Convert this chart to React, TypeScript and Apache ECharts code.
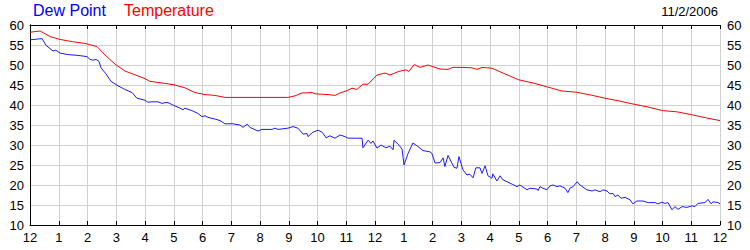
import React, { useEffect, useRef } from "react";
import * as echarts from "echarts";

const hourLabels = ["12","1","2","3","4","5","6","7","8","9","10","11","12","1","2","3","4","5","6","7","8","9","10","11","12"];
const yTicks = [10, 15, 20, 25, 30, 35, 40, 45, 50, 55, 60];
const legendNames = ["Dew Point", "Temperature"];
const dateLabel = "11/2/2006";

const tempHours = [0, 0.35, 0.7, 1.04, 1.5, 1.91, 2.33, 2.61, 2.96, 3.3, 4.0, 4.17, 4.7, 5.04, 5.39, 5.74, 6.09, 6.43, 6.78, 8.97, 9.22, 9.46, 9.81, 9.91, 10.37, 10.61, 10.78, 11.03, 11.2, 11.37, 11.58, 11.76, 12.07, 12.35, 12.52, 12.83, 13.08, 13.18, 13.36, 13.57, 13.84, 14.26, 14.54, 14.71, 15.06, 15.37, 15.55, 15.72, 16.07, 16.35, 17.0, 17.5, 18.0, 18.5, 19.0, 19.5, 20.0, 20.5, 21.0, 21.5, 22.0, 22.5, 23.0, 23.5, 24.0];
const tempValues = [58.2, 58.5, 57.1, 56.4, 55.8, 55.4, 54.6, 52.5, 50.2, 48.5, 46.6, 45.9, 45.4, 45.0, 44.3, 43.1, 42.6, 42.4, 41.9, 41.9, 42.3, 43.0, 43.1, 42.8, 42.6, 42.4, 43.0, 43.6, 44.2, 43.9, 45.2, 45.2, 47.5, 48.0, 47.5, 48.4, 48.8, 48.4, 50.1, 49.4, 50.0, 49.0, 48.9, 49.4, 49.4, 49.3, 48.9, 49.4, 49.2, 48.3, 46.3, 45.5, 44.5, 43.5, 43.2, 42.5, 41.7, 41.0, 40.2, 39.5, 38.6, 38.3, 37.6, 36.8, 36.1];

const dewHours = [0, 0.42, 0.56, 0.8, 0.9, 1.04, 1.32, 1.67, 1.98, 2.09, 2.19, 2.3, 2.4, 2.47, 2.64, 2.82, 3.06, 3.3, 3.55, 3.72, 4.0, 4.1, 4.24, 4.45, 4.59, 4.7, 4.8, 4.97, 5.22, 5.32, 5.39, 5.63, 5.84, 5.98, 6.09, 6.19, 6.43, 6.61, 6.78, 7.06, 7.3, 7.41, 7.55, 7.65, 7.93, 8.07, 8.42, 8.52, 8.63, 8.97, 9.15, 9.32, 9.5, 9.63, 9.67, 9.84, 10.02, 10.16, 10.3, 10.43, 10.61, 10.78, 10.96, 11.06, 11.37, 11.55, 11.58, 11.76, 11.86, 11.93, 12.07, 12.21, 12.38, 12.52, 12.63, 12.66, 12.83, 12.94, 13.01, 13.15, 13.32, 13.46, 13.67, 13.91, 13.98, 14.09, 14.26, 14.37, 14.43, 14.54, 14.75, 14.85, 14.92, 15.06, 15.2, 15.3, 15.41, 15.51, 15.65, 15.72, 15.83, 15.93, 16.07, 16.1, 16.24, 16.35, 16.45, 16.77, 16.94, 17.04, 17.29, 17.39, 17.63, 17.67, 17.74, 17.84, 17.98, 18.09, 18.19, 18.33, 18.43, 18.61, 18.71, 18.78, 18.89, 19.03, 19.13, 19.37, 19.55, 19.65, 19.83, 19.93, 20.07, 20.17, 20.28, 20.35, 20.45, 20.56, 20.7, 20.87, 20.97, 21.11, 21.32, 21.5, 21.74, 21.84, 21.98, 22.09, 22.19, 22.33, 22.43, 22.54, 22.68, 22.85, 23.03, 23.13, 23.23, 23.48, 23.58, 23.69, 23.76, 23.93, 24.0];
const dewValues = [56.3, 56.6, 54.9, 53.5, 53.7, 53.0, 52.6, 52.4, 52.1, 51.4, 51.2, 51.4, 50.9, 49.3, 47.8, 45.9, 44.8, 43.9, 43.1, 41.7, 41.2, 40.7, 40.8, 40.8, 40.4, 40.6, 40.6, 40.0, 39.2, 38.8, 39.2, 38.6, 37.9, 37.1, 37.3, 36.9, 36.5, 36.1, 35.3, 35.3, 35.0, 34.4, 35.2, 34.4, 33.5, 33.9, 33.9, 34.2, 33.9, 34.2, 34.6, 34.2, 32.7, 32.9, 32.1, 33.2, 33.7, 33.2, 31.8, 32.3, 31.7, 32.5, 32.1, 31.7, 31.7, 31.7, 29.3, 31.2, 30.4, 31.0, 29.2, 30.0, 29.3, 29.7, 28.8, 31.2, 30.0, 29.0, 25.0, 27.9, 30.5, 29.8, 28.6, 28.3, 27.9, 25.5, 25.6, 26.8, 24.6, 27.4, 24.4, 24.2, 27.1, 23.8, 22.5, 22.7, 21.8, 24.3, 24.3, 22.9, 24.8, 22.3, 21.7, 22.8, 21.0, 22.3, 21.3, 20.2, 19.6, 20.0, 18.8, 19.2, 19.0, 18.6, 19.6, 19.2, 18.8, 19.8, 20.0, 19.6, 19.8, 19.2, 18.1, 19.2, 19.6, 20.8, 20.0, 18.8, 18.5, 18.8, 18.3, 18.8, 18.5, 17.8, 17.9, 17.1, 17.5, 16.7, 16.9, 16.3, 15.3, 16.0, 16.0, 15.6, 15.6, 15.3, 15.7, 15.4, 15.6, 13.8, 14.6, 13.9, 14.6, 14.4, 14.8, 14.6, 15.4, 15.6, 16.4, 15.3, 15.8, 15.6, 15.3];

const FONT = "'Liberation Sans', Arial, sans-serif";

export default function App() {
  const ref = useRef<HTMLDivElement>(null);
  useEffect(() => {
    if (!ref.current) return;
    const chart = echarts.init(ref.current, undefined, { renderer: "svg" });
    const gridLine = { show: true, lineStyle: { color: "#d0d0d0", width: 1 } };
    const yAxisBase = {
      type: "value" as const,
      min: yTicks[0],
      max: yTicks[yTicks.length - 1],
      interval: 5,
      axisLine: { show: true, lineStyle: { color: "#000", width: 1 } },
      axisTick: { show: false },
      splitLine: gridLine,
    };
    chart.setOption({
      animation: false,
      backgroundColor: "#fff",
      title: [
        { text: legendNames[0], left: 33, top: 2, padding: 0, textStyle: { color: "#0000ff", fontSize: 16, fontWeight: "normal", fontFamily: FONT } },
        { text: legendNames[1], left: 124, top: 2, padding: 0, textStyle: { color: "#ff0000", fontSize: 16, fontWeight: "normal", fontFamily: FONT } },
        { text: dateLabel, right: 32, top: 5, padding: 0, textStyle: { color: "#000", fontSize: 13, fontWeight: "normal", fontFamily: FONT } },
      ],
      grid: { left: 30, right: 30, top: 25, bottom: 25, containLabel: false },
      xAxis: [
        {
          type: "value",
          min: 0,
          max: 24,
          interval: 1,
          position: "bottom",
          axisLine: { show: true, onZero: false, lineStyle: { color: "#000", width: 1 } },
          axisTick: { show: true, inside: true, length: 4, lineStyle: { color: "#000" } },
          axisLabel: { color: "#000", fontSize: 13, fontFamily: FONT, margin: 6, formatter: (v: number) => hourLabels[Math.round(v)] },
          splitLine: gridLine,
        },
        {
          type: "value",
          min: 0,
          max: 24,
          interval: 1,
          position: "top",
          axisLine: { show: true, onZero: false, lineStyle: { color: "#000", width: 1 } },
          axisTick: { show: true, inside: true, length: 4, lineStyle: { color: "#000" } },
          axisLabel: { show: false },
          splitLine: { show: false },
        },
      ],
      yAxis: [
        { ...yAxisBase, position: "left", axisLabel: { color: "#000", fontSize: 13, fontFamily: FONT, margin: 6 } },
        { ...yAxisBase, position: "right", axisLabel: { color: "#000", fontSize: 13, fontFamily: FONT, margin: 7 } },
      ],
      series: [
        {
          name: legendNames[1],
          type: "line",
          xAxisIndex: 0,
          yAxisIndex: 0,
          showSymbol: false,
          lineStyle: { color: "#ff0000", width: 1 },
          data: tempHours.map((h, i) => [h, tempValues[i]]),
        },
        {
          name: legendNames[0],
          type: "line",
          xAxisIndex: 0,
          yAxisIndex: 0,
          showSymbol: false,
          lineStyle: { color: "#1a1aff", width: 1 },
          data: dewHours.map((h, i) => [h, dewValues[i]]),
        },
      ],
    });
    return () => chart.dispose();
  }, []);
  return <div ref={ref} style={{ position: "fixed", left: 0, top: 0, width: 750, height: 250, background: "#fff" }} />;
}
